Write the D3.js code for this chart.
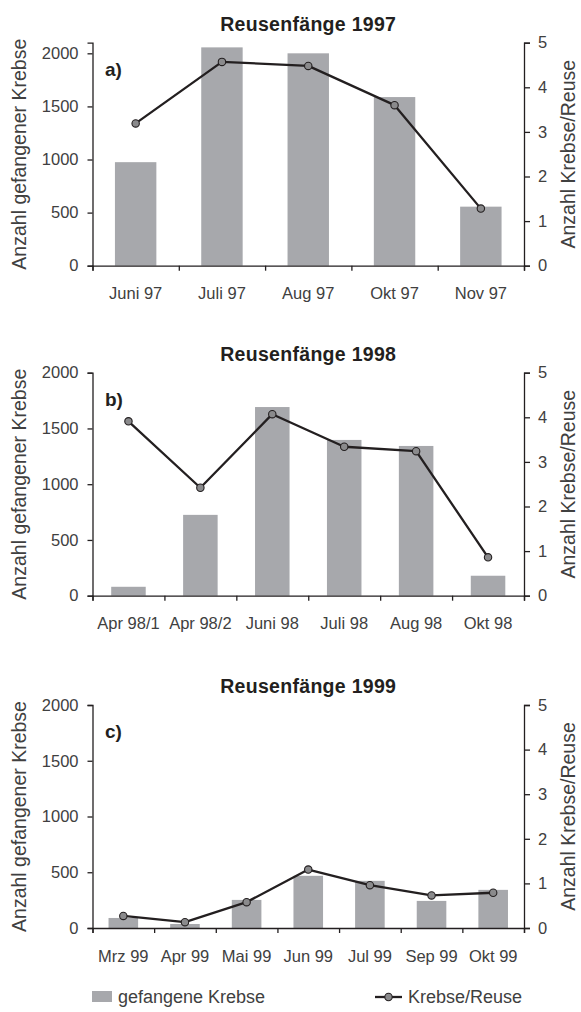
<!DOCTYPE html>
<html>
<head>
<meta charset="utf-8">
<script src="https://cdn.jsdelivr.net/npm/d3@7"></script>
<style>
  html, body { margin: 0; padding: 0; background: #fff; }
  svg { display: block; font-family: "Liberation Sans", Arial, Helvetica, sans-serif; }
</style>
</head>
<body>
<svg id="chart" width="581" height="1012"></svg>
<script>
// Catches per sampling date (bars, left axis) and catch per trap (line, right axis)
const months1997 = ["Juni 97", "Juli 97", "Aug 97", "Okt 97", "Nov 97"];
const catch1997 = [975, 2056, 2000, 1588, 556];
const perTrap1997 = [3.19, 4.57, 4.48, 3.60, 1.28];

const months1998 = ["Apr 98/1", "Apr 98/2", "Juni 98", "Juli 98", "Aug 98", "Okt 98"];
const catch1998 = [80, 725, 1692, 1397, 1343, 179];
const perTrap1998 = [3.91, 2.42, 4.07, 3.34, 3.24, 0.86];

const months1999 = ["Mrz 99", "Apr 99", "Mai 99", "Jun 99", "Jul 99", "Sep 99", "Okt 99"];
const catch1999 = [90, 36, 252, 468, 423, 243, 342];
const perTrap1999 = [0.27, 0.13, 0.58, 1.31, 0.96, 0.73, 0.79];

const countTicks = [0, 500, 1000, 1500, 2000];
const rateTicks = [0, 1, 2, 3, 4, 5];

const panelTitles = ["Reusenfänge 1997", "Reusenfänge 1998", "Reusenfänge 1999"];
const panelLetters = ["a)", "b)", "c)"];
const countMax = [2100, 2000, 2000];

const leftTitle = "Anzahl gefangener Krebse";
const rightTitle = "Anzahl Krebse/Reuse";
const legendBars = "gefangene Krebse";
const legendLine = "Krebse/Reuse";

const panels = [
  { months: months1997, counts: catch1997, rates: perTrap1997 },
  { months: months1998, counts: catch1998, rates: perTrap1998 },
  { months: months1999, counts: catch1999, rates: perTrap1999 }
];

const BAR = "#a7a8ac";
const INK = "#231f20";
const DOT = "#8a8a8c";
const TXT = "#404040";

const svg = d3.select("#chart");
const left = 92.5, right = 524, plotH = 223;
const tops = [42.7, 372.7, 705];
const fmt = d3.format("d");

panels.forEach((p, i) => {
  const top = tops[i], bottom = top + plotH;
  const g = svg.append("g");

  const x = d3.scaleBand().domain(p.months).range([left, right])
    .paddingInner(0.52).paddingOuter(0.26);
  const xEdges = d3.scaleLinear().domain([0, p.months.length]).range([left, right]);
  const yL = d3.scaleLinear().domain([0, countMax[i]]).range([bottom, top]);
  const yR = d3.scaleLinear().domain([0, 5]).range([bottom, top]);

  // bars
  g.selectAll("rect.bar").data(p.counts).join("rect")
    .attr("class", "bar")
    .attr("x", (d, k) => x(p.months[k]))
    .attr("width", x.bandwidth())
    .attr("y", d => yL(d))
    .attr("height", d => yL(0) - yL(d))
    .attr("fill", BAR);

  // left axis
  const ax = g.append("g").attr("transform", `translate(${left},0)`)
    .call(d3.axisLeft(yL).tickValues(countTicks).tickFormat(fmt)
      .tickSizeOuter(0).tickSize(5).tickPadding(9));
  // right axis
  const ar = g.append("g").attr("transform", `translate(${right},0)`)
    .call(d3.axisRight(yR).tickValues(rateTicks).tickFormat(fmt)
      .tickSizeOuter(0).tickSize(6).tickPadding(8));
  // bottom axis: boundary ticks
  const ab = g.append("g").attr("transform", `translate(0,${bottom})`)
    .call(d3.axisBottom(xEdges).tickValues(d3.range(p.months.length + 1)).tickSizeOuter(0)
      .tickSize(5).tickFormat(""));
  // bottom axis: category labels
  const al = g.append("g").attr("transform", `translate(0,${bottom})`)
    .call(d3.axisBottom(x).tickSize(0).tickPadding(22));
  al.select(".domain").remove();

  [ax, ar, ab].forEach(a => {
    a.select(".domain").attr("stroke", INK).attr("stroke-width", 1.3);
    a.selectAll(".tick line").attr("stroke", INK).attr("stroke-width", 1.3);
  });
  [ax, ar, al].forEach(a => a.selectAll(".tick text")
    .attr("font-size", 16.5).attr("fill", TXT)
    .attr("font-family", "Liberation Sans, Arial, sans-serif"));

  // line of catch per trap
  const line = d3.line().x((d, k) => x(p.months[k]) + x.bandwidth() / 2).y(d => yR(d));
  g.append("path").datum(p.rates)
    .attr("d", line).attr("fill", "none").attr("stroke", INK).attr("stroke-width", 2.3)
    .attr("stroke-linejoin", "round");
  g.selectAll("circle.pt").data(p.rates).join("circle")
    .attr("class", "pt")
    .attr("cx", (d, k) => x(p.months[k]) + x.bandwidth() / 2)
    .attr("cy", d => yR(d))
    .attr("r", 3.7)
    .attr("fill", DOT).attr("stroke", INK).attr("stroke-width", 1.1);

  // titles and labels
  g.append("text").attr("x", (left + right) / 2).attr("y", top - 12)
    .attr("text-anchor", "middle").attr("font-weight", "bold").attr("font-size", 19.5)
    .attr("letter-spacing", 0.3).attr("fill", INK).text(panelTitles[i]);
  g.append("text").attr("x", left + 12.5).attr("y", top + 33)
    .attr("font-weight", "bold").attr("font-size", 19).attr("fill", INK).text(panelLetters[i]);

  const midY = (top + bottom) / 2;
  g.append("text").attr("transform", `translate(19,${midY}) rotate(-90)`)
    .attr("text-anchor", "middle").attr("dominant-baseline", "central")
    .attr("font-size", 19.5).attr("fill", TXT).text(leftTitle);
  g.append("text").attr("transform", `translate(568,${midY}) rotate(-90)`)
    .attr("text-anchor", "middle").attr("dominant-baseline", "central")
    .attr("font-size", 19.5).attr("fill", TXT).text(rightTitle);
});

// legend
const lg = svg.append("g");
lg.append("rect").attr("x", 92).attr("y", 991).attr("width", 20).attr("height", 11).attr("fill", BAR);
lg.append("text").attr("x", 118).attr("y", 1003).attr("font-size", 18).attr("fill", TXT).text(legendBars);
lg.append("line").attr("x1", 375).attr("x2", 402).attr("y1", 997).attr("y2", 997)
  .attr("stroke", INK).attr("stroke-width", 2.3);
lg.append("circle").attr("cx", 388.5).attr("cy", 997).attr("r", 3.7)
  .attr("fill", DOT).attr("stroke", INK).attr("stroke-width", 1.1);
lg.append("text").attr("x", 408).attr("y", 1003).attr("font-size", 18).attr("fill", TXT).text(legendLine);
</script>
</body>
</html>
